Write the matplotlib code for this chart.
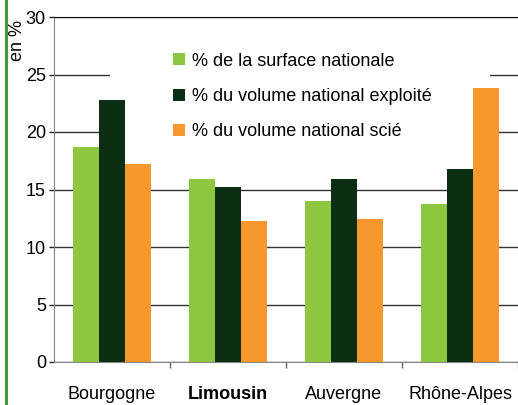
import matplotlib
matplotlib.use("Agg")
import matplotlib.pyplot as plt
import numpy as np
from matplotlib.patches import Rectangle
from matplotlib.lines import Line2D

categories = ["Bourgogne", "Limousin", "Auvergne", "Rhône-Alpes"]
surface = [18.7, 15.9, 14.0, 13.7]
exploite = [22.8, 15.2, 15.9, 16.8]
scie = [17.2, 12.3, 12.4, 23.8]
series_labels = ["% de la surface nationale",
                 "% du volume national exploité",
                 "% du volume national scié"]
colors = ["#8DC63F", "#0C2E12", "#F7972E"]
yticks = [0, 5, 10, 15, 20, 25, 30]

plt.rcParams['font.family'] = ['Liberation Sans', 'DejaVu Sans']

fig = plt.figure(figsize=(5.18, 4.05), dpi=100)
ax = fig.add_axes([54/518, 43/405, 464/518, 345/405])

x = np.arange(len(categories))
w = 0.224
handles = []
for i, (vals, c, lab) in enumerate(zip([surface, exploite, scie], colors, series_labels)):
    b = ax.bar(x + (i - 1) * w, vals, width=w, color=c, label=lab, zorder=3)
    handles.append(b)

ax.set_xlim(-0.5, 3.5)
ax.set_ylim(0, 30)
ax.set_yticks(yticks)
ax.yaxis.grid(True, color="#333333", linewidth=1.0, zorder=0.5)
ax.set_axisbelow(True)

# white legend background box
ax.add_patch(Rectangle((-0.017, 18.4), 3.277, 10.0, facecolor="white",
                       edgecolor="none", zorder=1))

ax.set_xticks(x)
ax.set_xticklabels(categories, fontsize=13)
ax.get_xticklabels()[1].set_fontweight("bold")
ax.tick_params(axis="x", which="major", length=0, pad=17)
ax.set_xticks([0.5, 1.5, 2.5, 3.5], minor=True)
ax.tick_params(axis="x", which="minor", length=4.5, color="#666666", width=1)
ax.tick_params(axis="y", length=3.8, width=1, color="#222222", labelsize=13, pad=2)

for s in ["right"]:
    ax.spines[s].set_visible(False)
ax.spines["top"].set_color("#111111")
ax.spines["left"].set_color("#888888")
ax.spines["bottom"].set_color("#888888")

leg = ax.legend(handles=handles, loc="upper left", bbox_to_anchor=(0.238, 0.923),
                frameon=False, fontsize=13, handlelength=0.65, handleheight=0.65,
                handletextpad=0.4, labelspacing=1.02, borderpad=0)
leg.set_zorder(5)

fig.text(17/518, 1 - 20/405, "en %", rotation=90, ha="center", va="top", fontsize=13)

fig.add_artist(Line2D([6/518, 6/518], [0, 1], color="#3C9A3C", linewidth=2.2,
                      transform=fig.transFigure))

fig.savefig("out.png", dpi=100)
